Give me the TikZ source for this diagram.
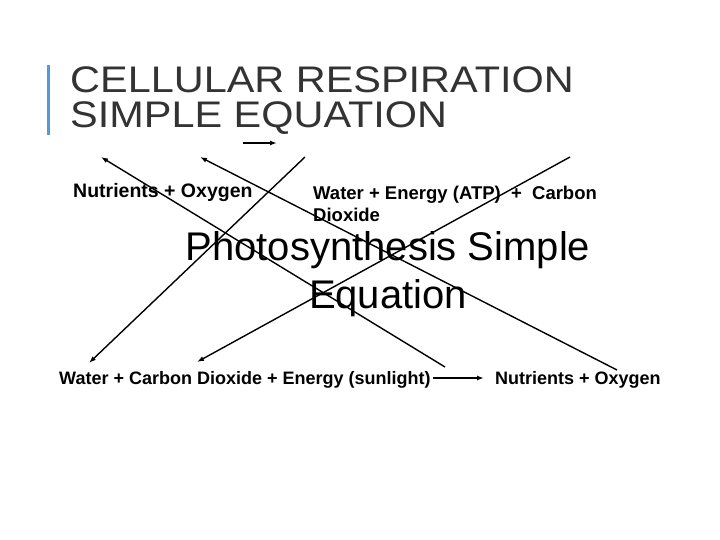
\documentclass[tikz,border=0pt]{standalone}
\usepackage{fontspec}
\usetikzlibrary{arrows.meta}
\setmainfont{Liberation Sans}
\begin{document}
\begin{tikzpicture}[x=1pt,y=-1pt,
  lbl/.style={inner sep=0,anchor=west,font=\bfseries\fontsize{19.5}{22}\selectfont},
  ln/.style={line width=1.4pt,-{Latex[length=7pt,width=5pt]}}]
\useasboundingbox (0,0) rectangle (720,540);
\fill[white] (0,0) rectangle (720,540);
\fill[cyan!60!blue!70] (47,65) rectangle (49.5,135);
\node[inner sep=0,anchor=west,align=left,text=black!80,xscale=1.12,font=\fontsize{37}{35}\selectfont] (t) at (70,101) {CELLULAR RESPIRATION\\SIMPLE EQUATION};
\node[lbl] (n1) at (73,193) {Nutrients + Oxygen};
\node[lbl,align=left,font=\bfseries\fontsize{18.5}{22}\selectfont] (w1) at (313,204) {Water + Energy (ATP)\ \ +\ \ Carbon\\Dioxide};
\node[inner sep=0,align=center,font=\fontsize{40}{48}\selectfont] (p) at (388,274) {Photosynthesis Simple\\Equation};
\node[lbl,font=\bfseries\fontsize{18}{20}\selectfont] (w2) at (59,380) {Water + Carbon Dioxide + Energy (sunlight)};
\node[lbl,font=\bfseries\fontsize{18}{20}\selectfont] (n2) at (495,380) {Nutrients + Oxygen};
\coordinate (a1) at (445,367); \coordinate (a2) at (101,157);
\coordinate (b1) at (617,370); \coordinate (b2) at (200,157);
\coordinate (c1) at (305,157); \coordinate (c2) at (89,363);
\coordinate (d1) at (570,157); \coordinate (d2) at (197,362);
\coordinate (s1) at (243,143); \coordinate (s2) at (277,143);
\coordinate (e1) at (433,378); \coordinate (e2) at (484,378);
\draw[ln] (a1) -- (a2);
\draw[ln] (b1) -- (b2);
\draw[ln] (c1) -- (c2);
\draw[ln] (d1) -- (d2);
\draw[ln] (s1) -- (s2);
\draw[ln] (e1) -- (e2);
\end{tikzpicture}
\end{document}
